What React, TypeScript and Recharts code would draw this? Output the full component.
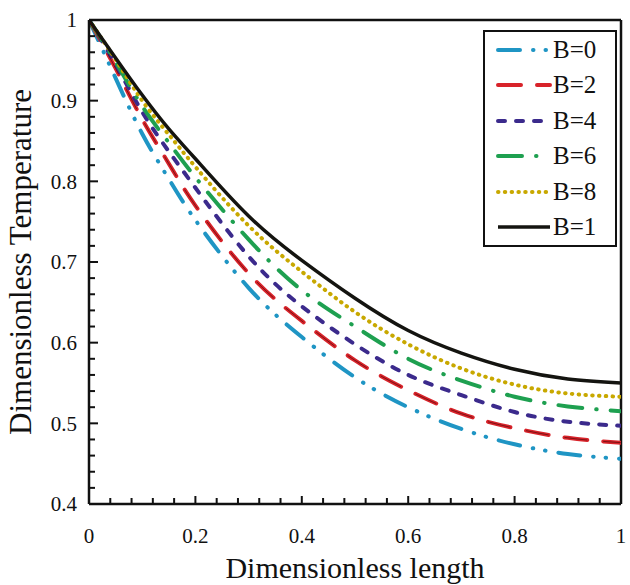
import React from 'react';
import { LineChart, Line, XAxis, YAxis, ReferenceLine, Legend } from 'recharts';

// x positions (dimensionless length)
const xValues = [0, 0.05, 0.1, 0.15, 0.2, 0.3, 0.4, 0.5, 0.6, 0.7, 0.8, 0.9, 1];
// dimensionless temperature for each B
const seriesB0 = [1, 0.928, 0.859, 0.803, 0.752, 0.668, 0.607, 0.557, 0.52, 0.493, 0.474, 0.462, 0.456];
const seriesB2 = [1, 0.94, 0.877, 0.822, 0.77, 0.686, 0.627, 0.578, 0.541, 0.512, 0.494, 0.482, 0.476];
const seriesB4 = [1, 0.945, 0.886, 0.837, 0.792, 0.707, 0.645, 0.598, 0.56, 0.535, 0.514, 0.502, 0.497];
const seriesB6 = [1, 0.948, 0.893, 0.848, 0.805, 0.728, 0.665, 0.62, 0.58, 0.553, 0.533, 0.521, 0.515];
const seriesB8 = [1, 0.951, 0.9, 0.858, 0.818, 0.745, 0.688, 0.638, 0.598, 0.568, 0.548, 0.537, 0.533];
const seriesB1 = [1, 0.953, 0.907, 0.865, 0.828, 0.757, 0.702, 0.655, 0.615, 0.587, 0.567, 0.555, 0.55];

const seriesNames = ['B=0', 'B=2', 'B=4', 'B=6', 'B=8', 'B=1'];
const xTickLabels = [0, 0.2, 0.4, 0.6, 0.8, 1];
const yTickLabels = [0.4, 0.5, 0.6, 0.7, 0.8, 0.9, 1];
const xMinorTicks = [0, 0.04, 0.08, 0.12, 0.16, 0.2, 0.24, 0.28, 0.32, 0.36, 0.4, 0.44, 0.48, 0.52, 0.56, 0.6, 0.64, 0.68, 0.72, 0.76, 0.8, 0.84, 0.88, 0.92, 0.96, 1];
const yMinorTicks = [0.4, 0.42, 0.44, 0.46, 0.48, 0.5, 0.52, 0.54, 0.56, 0.58, 0.6, 0.62, 0.64, 0.66, 0.68, 0.7, 0.72, 0.74, 0.76, 0.78, 0.8, 0.82, 0.84, 0.86, 0.88, 0.9, 0.92, 0.94, 0.96, 0.98, 1];

const data = xValues.map((x, i) => ({
  x,
  b0: seriesB0[i],
  b2: seriesB2[i],
  b4: seriesB4[i],
  b6: seriesB6[i],
  b8: seriesB8[i],
  b1: seriesB1[i],
}));

const FONT = '"Liberation Serif", "Times New Roman", serif';
const INK = '#111';

const styles = [
  { key: 'b0', name: seriesNames[0], color: '#1f95c4', width: 4, dash: '22 13 0.5 12 0.5 13' },
  { key: 'b2', name: seriesNames[1], color: '#d8232a', width: 4, dash: '23 16' },
  { key: 'b4', name: seriesNames[2], color: '#3b2a8c', width: 4, dash: '7 11' },
  { key: 'b6', name: seriesNames[3], color: '#1ea050', width: 4, dash: '24 14 0.5 14' },
  { key: 'b8', name: seriesNames[4], color: '#c8a800', width: 4, dash: '0.5 6.3' },
  { key: 'b1', name: seriesNames[5], color: '#141410', width: 3.5, dash: undefined as string | undefined },
];

const fmt = (v: number) => String(Number(v.toFixed(2)));
const isIn = (arr: number[], v: number) => arr.some((t) => Math.abs(t - v) < 1e-6);

const YTick = (props: any) => {
  const { x, y, payload } = props;
  const v = payload.value as number;
  const major = isIn(yTickLabels, v);
  return (
    <g>
      <line x1={x} x2={x + (major ? 9 : 6)} y1={y} y2={y} stroke={INK} strokeWidth={2} />
      {major && (
        <text x={x - 12} y={y} dy="0.35em" textAnchor="end" fontSize={21} fontFamily={FONT} fill={INK}>
          {fmt(v)}
        </text>
      )}
    </g>
  );
};

const XTick = (props: any) => {
  const { x, y, payload } = props;
  const v = payload.value as number;
  const major = isIn(xTickLabels, v);
  return (
    <g>
      <line x1={x} x2={x} y1={y} y2={y - (major ? 8 : 6)} stroke={INK} strokeWidth={2} />
      {major && (
        <text x={x} y={y + 39} textAnchor="middle" fontSize={21} fontFamily={FONT} fill={INK}>
          {fmt(v)}
        </text>
      )}
    </g>
  );
};

const YTitle = (props: any) => {
  const vb = props.viewBox || {};
  const cy = (vb.y ?? 0) + (vb.height ?? 0) / 2;
  const cx = 31;
  return (
    <text x={cx} y={cy} transform={`rotate(-90 ${cx} ${cy})`} textAnchor="middle" fontSize={31} fontFamily={FONT} fill={INK}>
      Dimensionless Temperature
    </text>
  );
};

const XTitle = (props: any) => {
  const vb = props.viewBox || {};
  const cx = (vb.x ?? 0) + (vb.width ?? 0) / 2;
  return (
    <text x={cx} y={578} textAnchor="middle" fontSize={30} fontFamily={FONT} fill={INK}>
      Dimensionless length
    </text>
  );
};

const renderLegend = () => (
  <div
    style={{
      width: 134,
      height: 217,
      border: `2px solid ${INK}`,
      boxSizing: 'border-box',
      background: '#fff',
      position: 'relative',
    }}
  >
    {styles.map((s, i) => (
      <div
        key={s.key}
        style={{
          position: 'absolute',
          left: 10,
          top: 2 + i * 35.4,
          height: 32,
          display: 'flex',
          alignItems: 'center',
          whiteSpace: 'nowrap',
        }}
      >
        <svg width={58} height={12} style={{ display: 'block' }}>
          <line
            x1={3}
            x2={55}
            y1={6}
            y2={6}
            stroke={s.color}
            strokeWidth={s.width}
            strokeDasharray={s.dash}
            strokeLinecap={s.dash ? 'round' : 'butt'}
          />
        </svg>
        <span style={{ fontSize: 25, fontFamily: FONT, color: INK, lineHeight: '32px' }}>{s.name}</span>
      </div>
    ))}
  </div>
);

export default function App() {
  return (
    <div style={{ position: 'absolute', left: 0, top: 0, width: 630, height: 585, background: '#fff' }}>
      <LineChart
        width={630}
        height={585}
        data={data}
        margin={{ top: 20, right: 9, bottom: 0, left: 0 }}
        style={{ fontFamily: FONT }}
      >
        <XAxis
          dataKey="x"
          type="number"
          domain={[0, 1]}
          ticks={xMinorTicks}
          interval={0}
          height={81}
          tickSize={0}
          tickMargin={0}
          tickLine={false}
          axisLine={{ stroke: INK, strokeWidth: 2.5 }}
          tick={<XTick />}
          label={<XTitle />}
          allowDataOverflow
        />
        <YAxis
          type="number"
          domain={[0.4, 1]}
          ticks={yMinorTicks}
          interval={0}
          width={89}
          tickSize={0}
          tickMargin={0}
          tickLine={false}
          axisLine={{ stroke: INK, strokeWidth: 2.5 }}
          tick={<YTick />}
          label={<YTitle />}
          allowDataOverflow
        />
        <ReferenceLine y={1} stroke={INK} strokeWidth={2.5} />
        <ReferenceLine x={1} stroke={INK} strokeWidth={2.5} />
        {styles.map((s) => (
          <Line
            key={s.key}
            type="natural"
            dataKey={s.key}
            name={s.name}
            stroke={s.color}
            strokeWidth={s.width}
            strokeDasharray={s.dash}
            strokeLinecap={s.dash ? 'round' : 'butt'}
            dot={false}
            activeDot={false}
            isAnimationActive={false}
          />
        ))}
        <Line
          type="natural"
          dataKey="b2"
          name="B=2 core"
          stroke="#4a0808"
          strokeWidth={0.9}
          strokeDasharray="23 16"
          strokeOpacity={0.7}
          dot={false}
          activeDot={false}
          legendType="none"
          isAnimationActive={false}
        />
        <Legend
          layout="vertical"
          align="center"
          verticalAlign="middle"
          wrapperStyle={{ left: 483, top: 30, width: 134, height: 217 }}
          content={renderLegend}
        />
      </LineChart>
    </div>
  );
}
